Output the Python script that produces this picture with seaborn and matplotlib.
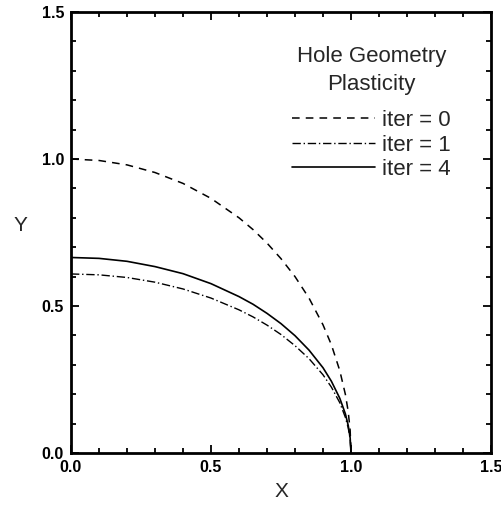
import numpy as np
import pandas as pd
import matplotlib
matplotlib.use("Agg")
import matplotlib.pyplot as plt
from matplotlib.ticker import MultipleLocator
import seaborn as sns

# points
x_pts = [0.0, 0.1, 0.2, 0.3, 0.4, 0.5, 0.6, 0.65, 0.7, 0.75, 0.8, 0.85,
         0.9, 0.93, 0.96, 0.98, 0.99, 0.997, 1.0]
y_iter0 = [1.0, 0.995, 0.980, 0.954, 0.917, 0.866, 0.800, 0.760, 0.714, 0.661,
           0.600, 0.527, 0.436, 0.368, 0.280, 0.199, 0.141, 0.077, 0.0]
y_iter1 = [0.609, 0.606, 0.597, 0.581, 0.558, 0.527, 0.487, 0.463, 0.435, 0.403,
           0.365, 0.321, 0.266, 0.224, 0.171, 0.121, 0.086, 0.047, 0.0]
y_iter4 = [0.665, 0.662, 0.652, 0.634, 0.610, 0.576, 0.532, 0.506, 0.475, 0.440,
           0.399, 0.350, 0.290, 0.244, 0.186, 0.133, 0.094, 0.051, 0.0]

labels = ['iter = 0', 'iter = 1', 'iter = 4']
legend_title = 'Hole Geometry\nPlasticity'

sns.set_style('ticks')
plt.rcParams['font.family'] = ['Liberation Sans', 'DejaVu Sans']

fig = plt.figure(figsize=(5.01, 5.05), dpi=100)
ax = fig.add_axes([71 / 501, 52 / 505, 420 / 501, 441 / 505])

sns.lineplot(x=x_pts, y=y_iter0, ax=ax, color='black', lw=1.1, sort=False,
             estimator=None, linestyle=(0, (5, 4)), label=labels[0])
sns.lineplot(x=x_pts, y=y_iter1, ax=ax, color='black', lw=1.0, sort=False,
             estimator=None, linestyle=(0, (6, 2, 1, 2)), label=labels[1])
sns.lineplot(x=x_pts, y=y_iter4, ax=ax, color='black', lw=1.2, sort=False,
             estimator=None, linestyle='-', label=labels[2])

ax.set_xlim(0, 1.5)
ax.set_ylim(0, 1.5)
ax.xaxis.set_major_locator(MultipleLocator(0.5))
ax.yaxis.set_major_locator(MultipleLocator(0.5))
ax.xaxis.set_minor_locator(MultipleLocator(0.1))
ax.yaxis.set_minor_locator(MultipleLocator(0.1))
ax.tick_params(which='both', direction='in', top=True, right=True,
               width=1.3, colors='black', labelsize=11.5)
ax.tick_params(which='major', length=6, pad=5)
ax.tick_params(which='minor', length=3.5)
for lbl in ax.get_xticklabels() + ax.get_yticklabels():
    lbl.set_fontweight('bold')
for sp in ax.spines.values():
    sp.set_linewidth(2)
    sp.set_color('black')

ax.set_xlabel('X', fontsize=15, labelpad=5)
ax.set_ylabel('Y', fontsize=15, rotation=0, va='center')
ax.yaxis.set_label_coords(-0.12, 0.515)

leg = ax.legend(title=legend_title, loc='upper left',
                bbox_to_anchor=(0.527, 0.922), frameon=False, fontsize=16,
                title_fontsize=16, handlelength=3.7, handletextpad=0.35,
                labelspacing=0.16, borderpad=0, borderaxespad=0)
leg._legend_box.align = 'center'
leg._legend_box.sep = 11
leg.get_title().set_multialignment('center')
leg.get_title().set_linespacing(1.4)

fig.savefig('out.png', dpi=100)
